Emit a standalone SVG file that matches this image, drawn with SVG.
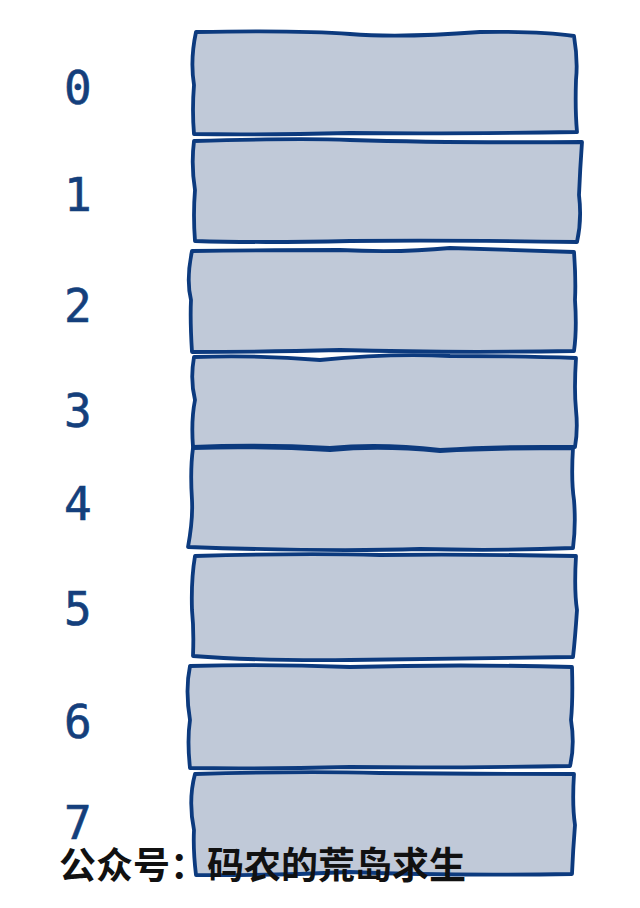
<svg xmlns="http://www.w3.org/2000/svg" width="640" height="908" viewBox="0 0 640 908">
<style>
.cell{fill:#c0c9d8;stroke:#0c3a7e;stroke-width:3.8;stroke-linejoin:round;stroke-linecap:round}
.idx{font-family:"DejaVu Sans Mono",monospace;font-size:46px;fill:#143f7c;stroke:#143f7c;stroke-width:0.6}
.cap{font-family:"Noto Sans CJK SC",sans-serif;font-size:37px;font-weight:bold;fill:#111}
</style>
<rect width="640" height="908" fill="#fff"/>
<g id="cell0"><path class="cell" d="M196,32 Q300,30 350,34 Q400,38 480,32 Q540,31 574,36 Q578,60 576,80 Q575,110 577,132 Q450,134 350,133 Q260,135 194,134 Q192,110 194,85 Q190,60 196,32 Z"/><text class="idx" x="64" y="104">0</text></g>
<g id="cell1"><path class="cell" d="M194,141 Q300,138 350,140 Q450,143 582,142 Q580,170 579,195 Q582,220 577,242 Q450,240 350,241 Q260,243 195,241 Q193,215 195,190 Q191,165 194,141 Z"/><text class="idx" x="64" y="211">1</text></g>
<g id="cell2"><path class="cell" d="M192,251 Q260,250 340,250 Q400,253 450,248 Q520,250 574,252 Q576,280 575,300 Q577,330 574,351 Q450,353 340,350 Q260,352 192,352 Q190,320 191,300 Q186,280 192,251 Z"/><text class="idx" x="64" y="322">2</text></g>
<g id="cell3"><path class="cell" d="M194,357 Q260,355 320,360 Q390,353 450,356 Q520,356 576,358 Q574,390 576,410 Q578,430 575,447 Q500,446 440,450 Q380,443 330,448 Q260,444 193,447 Q191,420 195,400 Q190,380 194,357 Z"/><text class="idx" x="64" y="427">3</text></g>
<g id="cell4"><path class="cell" d="M193,448 Q260,446 330,450 Q380,445 440,451 Q500,448 573,448 Q571,480 574,500 Q576,525 573,548 Q500,551 420,549 Q330,552 188,547 Q193,520 192,500 Q190,470 193,448 Z"/><text class="idx" x="64" y="520">4</text></g>
<g id="cell5"><path class="cell" d="M195,556 Q300,553 380,555 Q470,554 576,556 Q574,590 577,610 Q575,640 573,657 Q450,659 350,660 Q260,661 193,656 Q194,630 192,610 Q191,580 195,556 Z"/><text class="idx" x="64" y="625">5</text></g>
<g id="cell6"><path class="cell" d="M190,666 Q270,664 350,667 Q460,664 572,667 Q573,700 571,720 Q575,745 570,766 Q450,768 350,767 Q260,769 190,768 Q187,740 190,720 Q185,690 190,666 Z"/><text class="idx" x="64" y="738">6</text></g>
<g id="cell7"><path class="cell" d="M195,774 Q300,771 380,773 Q470,774 574,774 Q572,805 575,825 Q573,850 572,874 Q450,876 350,872 Q260,876 196,875 Q193,850 194,830 Q188,800 195,774 Z"/><text class="idx" x="64" y="839">7</text></g>
<text class="cap" x="59" y="879">公众号：码农的荒岛求生</text>
</svg>
